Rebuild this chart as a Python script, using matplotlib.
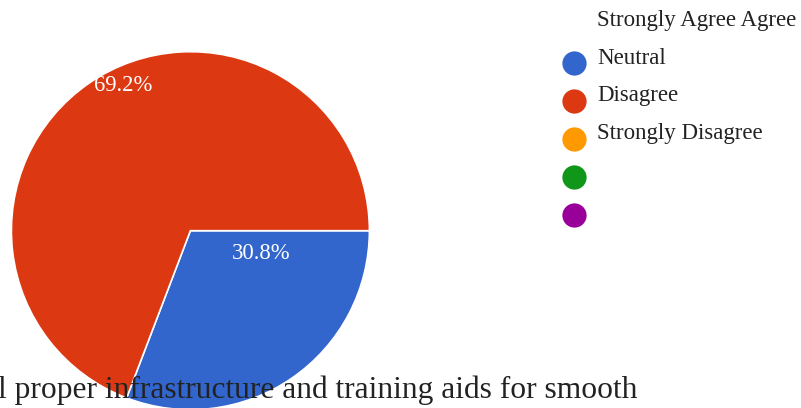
import matplotlib
matplotlib.use("Agg")
import matplotlib.pyplot as plt

# Data
slice_labels = ["Neutral", "Disagree"]
slice_values = [30.8, 69.2]
slice_colors = ["#3366CC", "#DC3912"]

legend_texts = ["Strongly Agree Agree", "Neutral", "Disagree", "Strongly Disagree"]
legend_colors = ["#3366CC", "#DC3912", "#FF9900", "#109618", "#990099"]

title_text = "l proper infrastructure and training aids for smooth"

W, H = 801, 408
plt.rcParams['font.family'] = ['Liberation Serif', 'DejaVu Serif']
fig = plt.figure(figsize=(W / 100, H / 100), dpi=100)

cx, cy, r = 190.4, 230.7, 179.0
ax = fig.add_axes([(cx - r) / W, (H - (cy + r)) / H, 2 * r / W, 2 * r / H])
wedges, texts, autotexts = ax.pie(
    slice_values, colors=slice_colors, startangle=0, counterclock=False,
    autopct=lambda p: f"{p:.1f}%",
    wedgeprops=dict(edgecolor="white", linewidth=1.2),
    textprops=dict(color="white", fontsize=16.3))
ax.set_xlim(-1, 1)
ax.set_ylim(-1, 1)
label_pos = [(0.397, -0.158), (-0.374, 0.780)]
for t, (x, y) in zip(autotexts, label_pos):
    t.set_position((x, y))
    t.set_ha("center")
    t.set_va("baseline")

ov = fig.add_axes([0, 0, 1, 1], zorder=5)
ov.set_xlim(0, W)
ov.set_ylim(H, 0)
ov.axis("off")

circle_y0, step = 63.3, 37.9
for i, c in enumerate(legend_colors):
    ov.scatter([574.3], [circle_y0 + i * step], s=305, color=c, linewidths=0)

text_base0 = 26.0
for i, t in enumerate(legend_texts):
    ov.text(597, text_base0 + i * 37.7, t, fontsize=16.5, color="#222222",
            ha="left", va="baseline")

ov.text(637, 398, title_text, fontsize=22.7, color="#222222",
        ha="right", va="baseline")

fig.savefig("out.png", dpi=100)
